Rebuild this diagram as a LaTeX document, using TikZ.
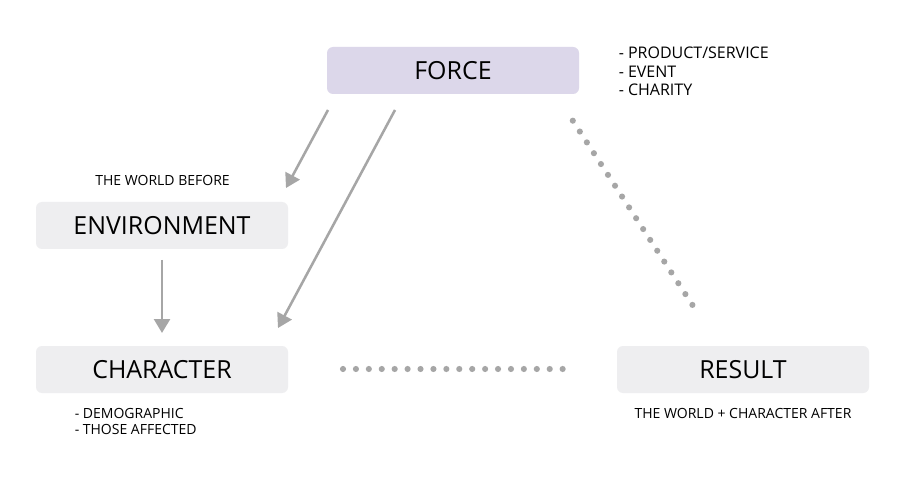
\documentclass[tikz,border=0pt]{standalone}
\usepackage{fontspec}
\setmainfont{Open Sans}
\usetikzlibrary{arrows.meta}
\definecolor{forcefill}{HTML}{DCD7EA}
\definecolor{boxfill}{HTML}{EEEEF0}
\definecolor{linegray}{HTML}{A6A6A6}
\tikzset{
  stagebox/.style={rounded corners=4.5pt, minimum width=189pt, minimum height=35.25pt,
    inner sep=0pt, font=\fontsize{18.7}{21}\selectfont, text=black},
  smalltext/.style={font=\fontsize{10.5}{12}\selectfont, inner sep=0pt, text=black},
  arrowline/.style={draw=linegray, line width=1.9pt,
    -{Triangle[length=10.5pt,width=12pt]}},
  dotline/.style={draw=linegray, line width=4.6pt, line cap=round,
    dash pattern=on 0pt off 9.69pt}
}
\begin{document}
\begin{tikzpicture}[x=0.75pt,y=-0.75pt]
\useasboundingbox (0,0) rectangle (900,481);
\fill[white] (0,0) rectangle (900,481);
% boxes
\node[stagebox, fill=forcefill] (force) at (453,70.5) {FORCE};
\node[stagebox, fill=boxfill] (env) at (162,225.5) {ENVIRONMENT};
\node[stagebox, fill=boxfill] (char) at (162,369.5) {CHARACTER};
\node[stagebox, fill=boxfill] (res) at (743,369.5) {RESULT};
% labels
\node[smalltext] (before) at (162.5,180) {THE WORLD BEFORE};
\node[smalltext, align=left, anchor=west, font=\fontsize{12}{13.9}\selectfont] (forcelist) at (618.5,71.5)
  {- PRODUCT/SERVICE\\- EVENT\\- CHARITY};
\node[smalltext, align=left, anchor=west] (charlist) at (74.5,421.5)
  {- DEMOGRAPHIC\\- THOSE AFFECTED};
\node[smalltext] (after) at (743,413) {THE WORLD + CHARACTER AFTER};
% connector ends
\coordinate (a1s) at (328,110);
\coordinate (a1e) at (286,188);
\coordinate (a2s) at (395,110);
\coordinate (a2e) at (278,328);
\coordinate (a3s) at (162,260);
\coordinate (a3e) at (162,333);
\coordinate (d1s) at (343,369);
\coordinate (d1e) at (563.2,369);
\coordinate (d2s) at (572.8,120.7);
\coordinate (d2e) at (692.8,305.5);
% arrows
\draw[arrowline] (a1s) -- (a1e);
\draw[arrowline] (a2s) -- (a2e);
\draw[arrowline] (a3s) -- (a3e);
% dotted connectors
\draw[dotline] (d1s) -- (d1e);
\draw[dotline] (d2s) -- (d2e);
\end{tikzpicture}
\end{document}
